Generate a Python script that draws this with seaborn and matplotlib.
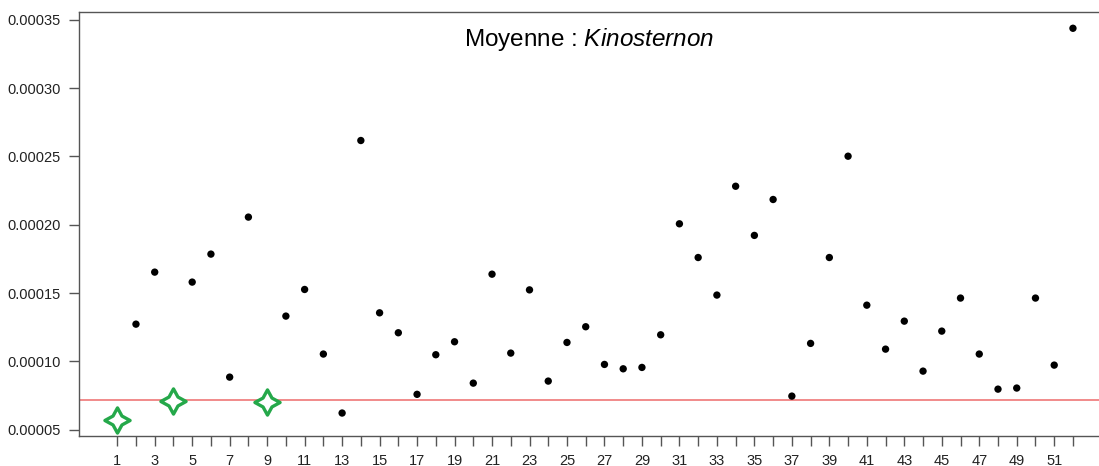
import pandas as pd
import numpy as np
import matplotlib.pyplot as plt
import matplotlib.ticker as mticker
import seaborn as sns

sns.set_style('white')
plt.rcParams['font.family'] = ['Liberation Sans', 'DejaVu Sans']
plt.rcParams['mathtext.fontset'] = 'custom'
plt.rcParams['mathtext.rm'] = 'Liberation Sans'
plt.rcParams['mathtext.it'] = 'Liberation Sans:italic'

# mean value per taxon (index 1..52)
taxon = list(range(1, 53))
moyenne = [0.0000570, 0.0001272, 0.0001653, 0.0000711, 0.0001580, 0.0001785, 0.0000884, 0.0002056,
           0.0000704, 0.0001331, 0.0001526, 0.0001053, 0.0000621, 0.0002617, 0.0001355, 0.0001209,
           0.0000758, 0.0001048, 0.0001143, 0.0000840, 0.0001638, 0.0001060, 0.0001523, 0.0000855,
           0.0001138, 0.0001253, 0.0000977, 0.0000945, 0.0000955, 0.0001194, 0.0002007, 0.0001760,
           0.0001485, 0.0002282, 0.0001922, 0.0002185, 0.0000745, 0.0001131, 0.0001760, 0.0002502,
           0.0001411, 0.0001089, 0.0001294, 0.0000928, 0.0001221, 0.0001463, 0.0001053, 0.0000796,
           0.0000804, 0.0001463, 0.0000972, 0.0003439]
highlight = [1, 4, 9]          # taxa drawn as green stars
seuil = 0.0000716              # red reference line
ytick_vals = [0.00005, 0.00010, 0.00015, 0.00020, 0.00025, 0.00030, 0.00035]

df = pd.DataFrame({'taxon': taxon, 'moyenne': moyenne})
df['groupe'] = np.where(df['taxon'].isin(highlight), 'star', 'dot')

fig = plt.figure(figsize=(10.99, 4.66), dpi=100)
ax = fig.add_axes([79 / 1099, 1 - 435.7 / 466, 1 - 79 / 1099, (435.7 - 12.3) / 466])

ax.axhline(seuil, color='#EE6B6B', lw=1.1, zorder=1)

sns.scatterplot(data=df[df['groupe'] == 'dot'], x='taxon', y='moyenne', ax=ax,
                color='black', s=28, edgecolor='none', zorder=3)
sns.scatterplot(data=df[df['groupe'] == 'star'], x='taxon', y='moyenne', ax=ax,
                marker=(4, 1, 0), s=330, facecolor='white', edgecolor='#25A84A',
                linewidth=2.4, zorder=4)

ax.set_xlim(-1.04, 53.39)
ax.set_ylim(0.0000455, 0.0003556)
ax.set_xticks(taxon)
ax.set_xticklabels([str(t) if t % 2 == 1 else '' for t in taxon])
ax.set_yticks(ytick_vals)
ax.yaxis.set_major_formatter(mticker.FormatStrFormatter('%.5f'))
ax.set_xlabel('')
ax.set_ylabel('')

for side in ['left', 'bottom', 'top']:
    ax.spines[side].set_color('#555555')
    ax.spines[side].set_linewidth(1.0)
ax.spines['right'].set_visible(False)

ax.tick_params(axis='both', direction='out', length=7, width=1, color='#555555',
               labelsize=10.5, labelcolor='#222222')
ax.tick_params(axis='x', pad=6)
ax.tick_params(axis='y', pad=6)
ax.xaxis.set_ticks_position('bottom')
ax.yaxis.set_ticks_position('left')

ax.text(0.5, 0.935, r'Moyenne : $\mathit{Kinosternon}$', transform=ax.transAxes,
        ha='center', va='center', fontsize=17.5, color='black')

fig.savefig('out.png', dpi=100)
